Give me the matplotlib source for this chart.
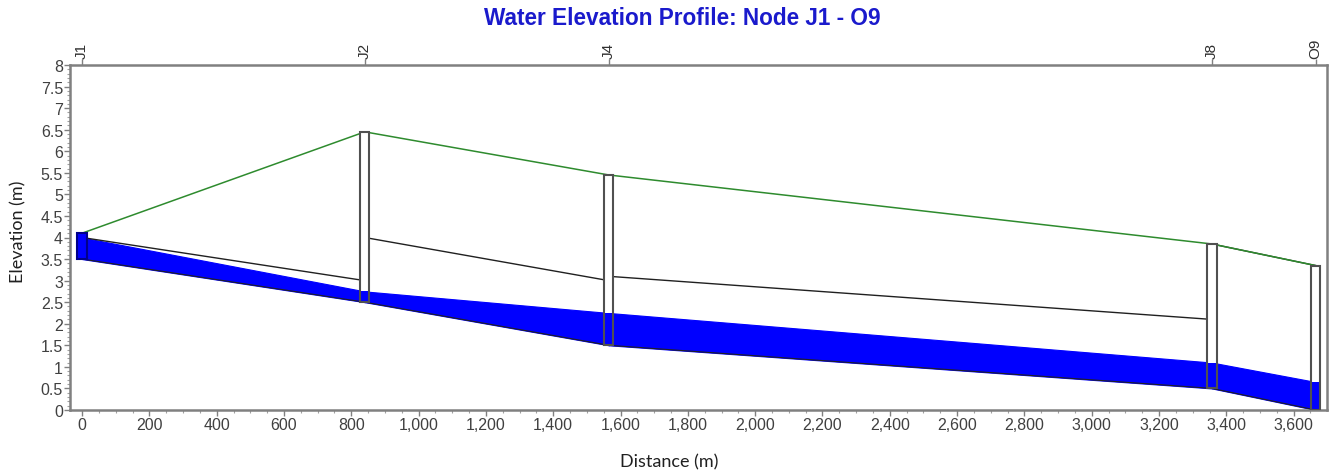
import numpy as np
import matplotlib
matplotlib.use("Agg")
import matplotlib.pyplot as plt
from matplotlib.patches import Rectangle
from matplotlib.ticker import MultipleLocator, FuncFormatter

plt.rcParams["font.family"] = ["Liberation Sans", "DejaVu Sans"]

# Nodes along the profile (distance in m, elevations in m).
nodes = ["J1", "J2", "J4", "J8", "O9"]
node_x = [0, 840, 1565, 3357, 3665]
invert = [3.5, 2.5, 1.5, 0.5, 0.0]
rim = [4.1, 6.45, 5.45, 3.85, 3.35]
node_water = [4.1, 2.75, 2.25, 1.1, 0.65]

# Links between consecutive nodes.
link_top_up = [4.0, 4.0, 3.1, 3.85]
link_top_dn = [3.0, 3.0, 2.1, 3.35]
link_water_up = [4.0, 2.75, 2.25, 1.1]
link_water_dn = [2.75, 2.25, 1.1, 0.65]

blue = "#0000ff"
mh_w = 28

fig = plt.figure(figsize=(13.35, 4.77), dpi=100)
ax = fig.add_axes([0.0524, 0.1384, 0.9416, 0.7232])

for i in range(len(nodes) - 1):
    xs = [node_x[i], node_x[i + 1]]
    ax.fill_between(xs, [invert[i], invert[i + 1]],
                    [link_water_up[i], link_water_dn[i]],
                    color=blue, lw=0.8, zorder=2)
    ax.plot(xs, [invert[i], invert[i + 1]], color="#202020", lw=0.8, zorder=3)
    ax.plot(xs, [link_top_up[i], link_top_dn[i]], color="#202020", lw=1.0, zorder=3)

# ground / rim line
ax.plot(node_x, rim, color="#2e8b2e", lw=1.1, zorder=4)

# manholes
for i, x in enumerate(node_x):
    ax.add_patch(Rectangle((x - mh_w / 2, invert[i]), mh_w, rim[i] - invert[i],
                           facecolor="white", edgecolor="none", zorder=5))
    ax.add_patch(Rectangle((x - mh_w / 2, invert[i]), mh_w, node_water[i] - invert[i],
                           facecolor=blue, edgecolor="none", zorder=6))
    edge = "#00008b" if node_water[i] >= rim[i] else "#505050"
    ax.add_patch(Rectangle((x - mh_w / 2, invert[i]), mh_w, rim[i] - invert[i],
                           facecolor="none", edgecolor=edge, lw=1.5, zorder=7))

ax.set_xlim(-36, 3699)
ax.set_ylim(0, 8)

ax.xaxis.set_major_locator(MultipleLocator(200))
ax.xaxis.set_minor_locator(MultipleLocator(50))
ax.yaxis.set_major_locator(MultipleLocator(0.5))
ax.yaxis.set_minor_locator(MultipleLocator(0.1))
ax.xaxis.set_major_formatter(FuncFormatter(lambda v, p: f"{v:,.0f}"))
ax.yaxis.set_major_formatter(FuncFormatter(lambda v, p: f"{v:g}"))

for s in ax.spines.values():
    s.set_color("#808080")
    s.set_linewidth(1.8)

ax.tick_params(axis="both", which="major", color="#808080", length=4, width=1,
               labelsize=11.5, labelcolor="#404040", pad=1)
ax.tick_params(axis="both", which="minor", color="#a0a0a0", length=2.5, width=0.8)

# node labels along the top
top = ax.secondary_xaxis("top")
top.set_xticks(node_x)
top.set_xticklabels(nodes, rotation=90)
top.tick_params(color="#808080", length=4, width=1, labelsize=11,
                labelcolor="#303030", pad=1)
top.spines["top"].set_visible(False)

fig.text(0.501, 0.03, "Distance (m)", ha="center", va="center",
         fontsize=13, color="#202020", family=["Lato", "DejaVu Sans"])
fig.text(0.014, 0.515, "Elevation (m)", ha="center", va="center", rotation=90,
         fontsize=13, color="#202020", family=["Lato", "DejaVu Sans"])

fig.text(0.511, 0.962, "Water Elevation Profile: Node J1 - O9", ha="center", va="center",
         fontsize=16.3, fontweight="bold", color="#1a1acc")

fig.savefig("out.png", dpi=100)
